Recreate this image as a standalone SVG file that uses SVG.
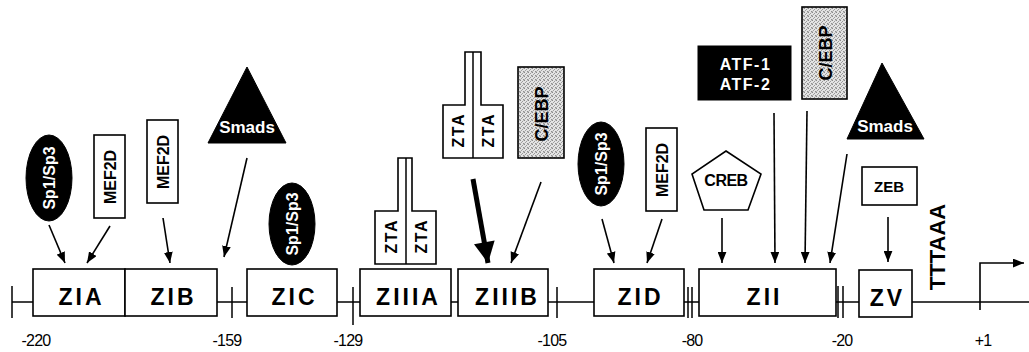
<svg xmlns="http://www.w3.org/2000/svg" width="1029" height="352" viewBox="0 0 1029 352">
<style>
  .box{fill:#fff;stroke:#000;stroke-width:1.6}
  .blk{fill:#000;stroke:#000;stroke-width:1}
  .ln{stroke:#000;stroke-width:1.5;fill:none}
  .arr{stroke:#000;stroke-width:1.6;fill:none;marker-end:url(#ah)}
  .lbl{font-family:"Liberation Sans",Arial,sans-serif;font-weight:bold;font-size:23px;letter-spacing:3px;text-anchor:middle;fill:#000}
  .num{font-family:"Liberation Sans",Arial,sans-serif;font-size:16px;text-anchor:middle;letter-spacing:-0.8px;fill:#000}
  .t{font-family:"Liberation Sans",Arial,sans-serif;font-weight:bold;text-anchor:middle}
  .w{fill:#fff}
  .k{fill:#000}
</style>
<defs>
  <marker id="ah" markerUnits="userSpaceOnUse" viewBox="0 0 10 8" refX="10" refY="4" markerWidth="11" markerHeight="9" orient="auto">
    <path d="M0,0 L10,4 L0,8 Z" fill="#000"/>
  </marker>
  <marker id="ahb" markerUnits="userSpaceOnUse" viewBox="0 0 20 20" refX="20" refY="10" markerWidth="22" markerHeight="21" orient="auto">
    <path d="M0,0 L20,10 L0,20 Z" fill="#000"/>
  </marker>
  <pattern id="stip" patternUnits="userSpaceOnUse" width="4" height="4">
    <rect width="4" height="4" fill="#e4e4e4"/>
    <rect x="0" y="0" width="1" height="1" fill="#8a8a8a"/>
    <rect x="2" y="1" width="1" height="1" fill="#9a9a9a"/>
    <rect x="1" y="2" width="1" height="1" fill="#a0a0a0"/>
    <rect x="3" y="3" width="1" height="1" fill="#909090"/>
    <rect x="3" y="0" width="1" height="1" fill="#c0c0c0"/>
    <rect x="0" y="3" width="1" height="1" fill="#b8b8b8"/>
  </pattern>
</defs>

<!-- main line and ticks -->
<g id="backbone" class="ln">
  <line x1="12" y1="302" x2="1029" y2="302"/>
  <line x1="12" y1="286" x2="12" y2="318"/>
  <line x1="232" y1="287" x2="232" y2="318"/>
  <line x1="353" y1="287" x2="353" y2="325"/>
  <line x1="557" y1="287" x2="557" y2="318"/>
  <line x1="688" y1="287" x2="688" y2="318"/>
  <line x1="692" y1="287" x2="692" y2="318"/>
  <line x1="838" y1="286" x2="838" y2="318"/>
  <line x1="843" y1="286" x2="843" y2="318"/>
</g>

<!-- region boxes -->
<g id="ZIA"><rect class="box" x="33" y="269" width="92" height="47"/><text class="lbl" x="81.5" y="305">ZIA</text></g>
<g id="ZIB"><rect class="box" x="125" y="269" width="92" height="47"/><text class="lbl" x="173.5" y="305">ZIB</text></g>
<g id="ZIC"><rect class="box" x="247" y="269" width="90" height="47"/><text class="lbl" x="294.5" y="305">ZIC</text></g>
<g id="ZIIIA"><rect class="box" x="360" y="269" width="91" height="47"/><text class="lbl" x="408.5" y="305">ZIIIA</text></g>
<g id="ZIIIB"><rect class="box" x="458" y="269" width="90" height="47"/><text class="lbl" x="507.5" y="305">ZIIIB</text></g>
<g id="ZID"><rect class="box" x="594" y="269" width="90" height="47"/><text class="lbl" x="640.5" y="305">ZID</text></g>
<g id="ZII"><rect class="box" x="699" y="269" width="137" height="47"/><text class="lbl" x="764.5" y="305">ZII</text></g>
<g id="ZV"><rect class="box" x="859" y="270" width="53" height="47"/><text class="lbl" x="887.5" y="306">ZV</text></g>

<!-- position numbers -->
<g id="positions">
  <text class="num" x="36" y="346">-220</text>
  <text class="num" x="227" y="346">-159</text>
  <text class="num" x="348" y="346">-129</text>
  <text class="num" x="552" y="346">-105</text>
  <text class="num" x="692" y="346">-80</text>
  <text class="num" x="842" y="346">-20</text>
  <text class="num" x="983" y="346">+1</text>
</g>

<!-- factors -->
<g id="sp1a"><ellipse class="blk" cx="49" cy="178" rx="23" ry="43"/><text class="t w" font-size="16" transform="translate(49,178) rotate(-90)" y="6">Sp1/Sp3</text></g>
<g id="mef2d1"><rect class="box" x="94" y="135" width="31" height="83"/><text class="t k" font-size="16" transform="translate(109.5,177) rotate(-90)" y="6">MEF2D</text></g>
<g id="mef2d2"><rect class="box" x="147" y="120" width="31" height="83"/><text class="t k" font-size="16" transform="translate(162.5,162) rotate(-90)" y="6">MEF2D</text></g>
<g id="smads1"><polygon class="blk" points="247,67 208,143 286,143"/><text class="t w" font-size="17" x="247" y="133">Smads</text></g>
<g id="sp1c"><ellipse class="blk" cx="292" cy="224" rx="23" ry="41"/><text class="t w" font-size="16" transform="translate(292,224) rotate(-90)" y="6">Sp1/Sp3</text></g>
<g id="zta1">
  <path class="box" d="M398,158 H412 V211 H436 V264 H375 V211 H398 Z"/>
  <line class="ln" x1="406" y1="158" x2="406" y2="264"/>
  <text class="t k" font-size="16" letter-spacing="1.5" transform="translate(391,237) rotate(-90)" x="0.75" y="6">ZTA</text>
  <text class="t k" font-size="16" letter-spacing="1.5" transform="translate(421,237) rotate(-90)" x="0.75" y="6">ZTA</text>
</g>
<g id="zta2">
  <path class="box" d="M465,52 H481 V105 H503 V158 H443 V105 H465 Z"/>
  <line class="ln" x1="473" y1="52" x2="473" y2="158"/>
  <text class="t k" font-size="16" letter-spacing="1.5" transform="translate(458,131) rotate(-90)" x="0.75" y="6">ZTA</text>
  <text class="t k" font-size="16" letter-spacing="1.5" transform="translate(488,131) rotate(-90)" x="0.75" y="6">ZTA</text>
</g>
<g id="cebp1"><rect x="518" y="67" width="46" height="91" fill="url(#stip)" stroke="#000" stroke-width="1.6"/><text class="t k" font-size="18" transform="translate(541,114) rotate(-90)" y="6.5">C/EBP</text></g>
<g id="sp1d"><ellipse class="blk" cx="601" cy="164" rx="23" ry="42"/><text class="t w" font-size="16" transform="translate(601,164) rotate(-90)" y="6">Sp1/Sp3</text></g>
<g id="mef2d3"><rect class="box" x="646" y="128" width="31" height="83"/><text class="t k" font-size="16" transform="translate(661.5,170) rotate(-90)" y="6">MEF2D</text></g>
<g id="creb"><polygon class="box" points="726,151 761,174 748,210 704,210 692,174"/><text class="t k" font-size="16" letter-spacing="-0.5" x="726" y="186">CREB</text></g>
<g id="atf"><rect class="blk" x="698" y="46" width="93" height="54"/><text class="t w" font-size="16" letter-spacing="1.5" x="745.5" y="70">ATF-1</text><text class="t w" font-size="16" letter-spacing="1.5" x="745.5" y="90">ATF-2</text></g>
<g id="cebp2"><rect x="802" y="7" width="45" height="92" fill="url(#stip)" stroke="#000" stroke-width="1.6"/><text class="t k" font-size="18" transform="translate(825,53) rotate(-90)" y="6.5">C/EBP</text></g>
<g id="smads2"><polygon class="blk" points="882,63 847,139 924,139"/><text class="t w" font-size="17" x="885" y="132">Smads</text></g>
<g id="zeb"><rect class="box" x="862" y="167" width="55" height="38"/><text class="t k" font-size="15" x="889" y="192">ZEB</text></g>
<g id="tata"><text class="t k" font-size="22" transform="translate(937,247) rotate(-90)" y="8">TTTAAA</text></g>

<!-- connectors -->
<g id="connectors">
  <line class="arr" x1="49" y1="225" x2="65" y2="263"/>
  <line class="arr" x1="110" y1="226" x2="87" y2="263"/>
  <line class="arr" x1="163" y1="218" x2="170" y2="263"/>
  <line class="arr" x1="247" y1="158" x2="224" y2="257"/>
  <line x1="473" y1="179" x2="488" y2="263" stroke="#000" stroke-width="5" marker-end="url(#ahb)"/>
  <line class="arr" x1="541" y1="182" x2="511" y2="263"/>
  <line class="arr" x1="602" y1="219" x2="614" y2="263"/>
  <line class="arr" x1="662" y1="219" x2="647" y2="263"/>
  <line class="arr" x1="722" y1="218" x2="722" y2="263"/>
  <line class="arr" x1="774" y1="113" x2="775" y2="263"/>
  <line class="arr" x1="807" y1="111" x2="805" y2="263"/>
  <line class="arr" x1="847" y1="154" x2="830" y2="263"/>
  <line class="arr" x1="888" y1="217" x2="888" y2="262"/>
  <path class="arr" d="M980,310 V263 H1024"/>
</g>
</svg>
